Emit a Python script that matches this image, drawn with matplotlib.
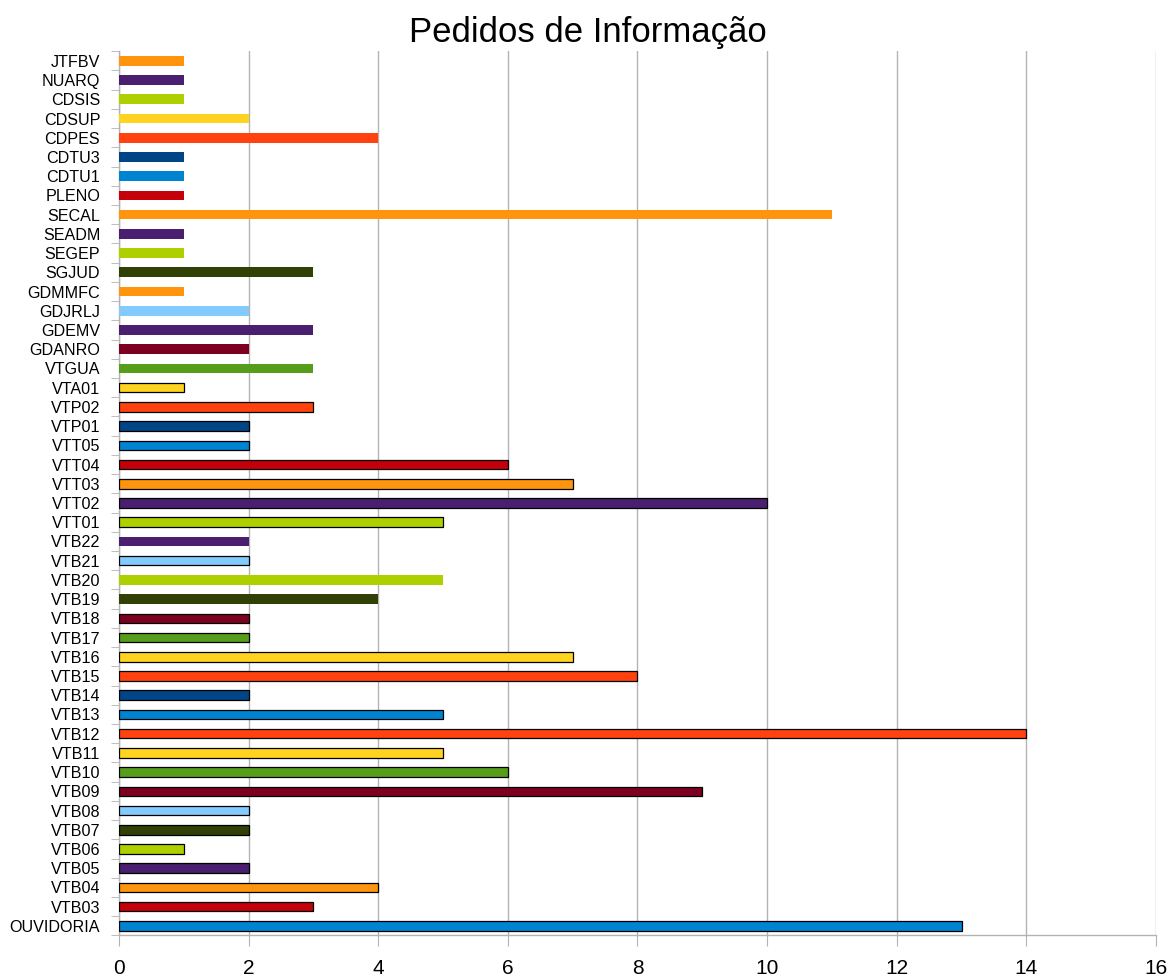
import matplotlib.pyplot as plt
import numpy as np

plt.rcParams['font.family'] = ['Liberation Sans', 'DejaVu Sans']

# categories listed top to bottom as they appear in the chart
labels = ['JTFBV', 'NUARQ', 'CDSIS', 'CDSUP', 'CDPES', 'CDTU3', 'CDTU1', 'PLENO',
          'SECAL', 'SEADM', 'SEGEP', 'SGJUD', 'GDMMFC', 'GDJRLJ', 'GDEMV', 'GDANRO',
          'VTGUA', 'VTA01', 'VTP02', 'VTP01', 'VTT05', 'VTT04', 'VTT03', 'VTT02',
          'VTT01', 'VTB22', 'VTB21', 'VTB20', 'VTB19', 'VTB18', 'VTB17', 'VTB16',
          'VTB15', 'VTB14', 'VTB13', 'VTB12', 'VTB11', 'VTB10', 'VTB09', 'VTB08',
          'VTB07', 'VTB06', 'VTB05', 'VTB04', 'VTB03', 'OUVIDORIA']
values = [1, 1, 1, 2, 4, 1, 1, 1,
          11, 1, 1, 3, 1, 2, 3, 2,
          3, 1, 3, 2, 2, 6, 7, 10,
          5, 2, 2, 5, 4, 2, 2, 7,
          8, 2, 5, 14, 5, 6, 9, 2,
          2, 1, 2, 4, 3, 13]
colors = ['#ff950e', '#4b1f6f', '#aecf00', '#ffd320', '#ff420e', '#004586', '#0084d1', '#c5000b',
          '#ff950e', '#4b1f6f', '#aecf00', '#314004', '#ff950e', '#83caff', '#4b1f6f', '#7e0021',
          '#579d1c', '#ffd320', '#ff420e', '#004586', '#0084d1', '#c5000b', '#ff950e', '#4b1f6f',
          '#aecf00', '#4b1f6f', '#83caff', '#aecf00', '#314004', '#7e0021', '#579d1c', '#ffd320',
          '#ff420e', '#004586', '#0084d1', '#ff420e', '#ffd320', '#579d1c', '#7e0021', '#83caff',
          '#314004', '#aecf00', '#4b1f6f', '#ff950e', '#c5000b', '#0084d1']
# bars drawn with a black outline in the original
outlined = ['VTA01', 'VTP02', 'VTP01', 'VTT05', 'VTT04', 'VTT03', 'VTT02', 'VTT01',
            'VTB21', 'VTB18', 'VTB17', 'VTB16', 'VTB15', 'VTB14', 'VTB13', 'VTB12',
            'VTB11', 'VTB10', 'VTB09', 'VTB08', 'VTB07', 'VTB06', 'VTB05', 'VTB04',
            'VTB03', 'OUVIDORIA']

n = len(labels)
y = np.arange(n)[::-1]

fig = plt.figure(figsize=(11.71, 9.76), dpi=100)
ax = fig.add_axes([0.1016, 0.0415, 0.8856, 0.906])

for yi, lab, v, c in zip(y, labels, values, colors):
    if lab in outlined:
        ax.barh(yi, v, height=0.5, color=c, edgecolor='black', linewidth=0.9, zorder=3)
    else:
        ax.barh(yi, v, height=0.5, color=c, linewidth=0, zorder=3)

ax.set_xlim(0, 16)
ax.set_ylim(-0.5, n - 0.5)
ax.set_xticks(np.arange(0, 17, 2))
ax.set_yticks(y)
ax.set_yticklabels(labels)
ax.set_yticks(np.arange(-0.5, n, 1), minor=True)

ax.tick_params(axis='x', labelsize=15, length=8, color='#b3b3b3', pad=9)
ax.tick_params(axis='y', which='major', labelsize=11.6, length=0, pad=13.5)
ax.tick_params(axis='y', which='minor', length=6, color='#b3b3b3')
ax.grid(axis='x', color='#b3b3b3', linewidth=1, zorder=0)

for side in ['top', 'right']:
    ax.spines[side].set_visible(False)
for side in ['left', 'bottom']:
    ax.spines[side].set_color('#b3b3b3')
    ax.spines[side].set_linewidth(1)

fig.suptitle('Pedidos de Informação', fontsize=25, x=0.502, y=0.984, va='top')

fig.savefig('out.png', dpi=100)
